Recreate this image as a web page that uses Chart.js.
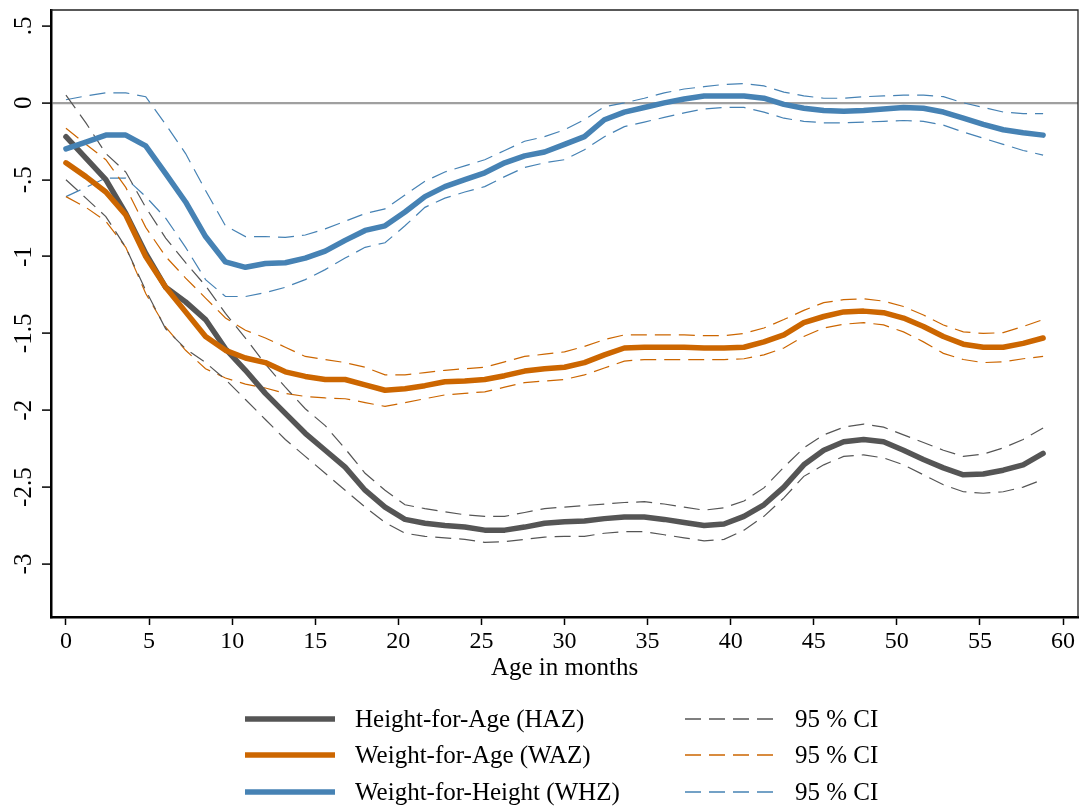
<!DOCTYPE html>
<html>
<head>
<meta charset="utf-8">
<script src="https://cdn.jsdelivr.net/npm/chart.js@4.4.1/dist/chart.umd.min.js"></script>
<style>
  html, body { margin: 0; padding: 0; background: #fff; }
  #wrap { position: relative; width: 1085px; height: 807px; }
  #legend { position: absolute; left: 0; top: 0; font-family: "Liberation Serif", serif; font-size: 25px; color: #000; }
  .item { position: absolute; height: 30px; display: flex; align-items: center; white-space: nowrap; }
  .item svg { margin-right: 20px; }
</style>
</head>
<body>
<div id="wrap">
  <canvas id="chart"></canvas>
  <div id="legend"></div>
</div>
<script>
var ages = [0, 1.2, 2.4, 3.6, 4.8, 6, 7.2, 8.4, 9.6, 10.8,
  12, 13.2, 14.4, 15.6, 16.8, 18, 19.2, 20.4, 21.6, 22.8,
  24, 25.2, 26.4, 27.6, 28.8, 30, 31.2, 32.4, 33.6, 34.8,
  36, 37.2, 38.4, 39.6, 40.8, 42, 43.2, 44.4, 45.6, 46.8,
  48, 49.2, 50.4, 51.6, 52.8, 54, 55.2, 56.4, 57.6, 58.8];

var haz = [-0.22, -0.36, -0.50, -0.72, -0.98, -1.20, -1.295, -1.41, -1.60, -1.74,
  -1.89, -2.02, -2.15, -2.26, -2.37, -2.52, -2.63, -2.71, -2.735, -2.75,
  -2.76, -2.78, -2.78, -2.76, -2.735, -2.725, -2.72, -2.705, -2.695, -2.695,
  -2.71, -2.73, -2.75, -2.74, -2.69, -2.615, -2.50, -2.355, -2.26, -2.205,
  -2.19, -2.205, -2.26, -2.32, -2.375, -2.42, -2.415, -2.39, -2.355, -2.28];
var hazHi = [0.05, -0.13, -0.33, -0.45, -0.68, -0.88, -1.04, -1.19, -1.37, -1.53,
  -1.70, -1.85, -1.99, -2.10, -2.25, -2.41, -2.52, -2.615, -2.64, -2.66,
  -2.68, -2.69, -2.69, -2.665, -2.64, -2.63, -2.62, -2.61, -2.60, -2.595,
  -2.61, -2.63, -2.65, -2.635, -2.59, -2.505, -2.37, -2.245, -2.16, -2.11,
  -2.09, -2.11, -2.16, -2.21, -2.26, -2.30, -2.285, -2.245, -2.19, -2.115];
var hazLo = [-0.50, -0.62, -0.74, -0.94, -1.22, -1.47, -1.60, -1.69, -1.80, -1.93,
  -2.06, -2.19, -2.30, -2.41, -2.52, -2.63, -2.73, -2.80, -2.82, -2.83,
  -2.84, -2.86, -2.855, -2.84, -2.825, -2.82, -2.82, -2.80, -2.79, -2.79,
  -2.81, -2.83, -2.85, -2.84, -2.78, -2.69, -2.57, -2.43, -2.355, -2.30,
  -2.29, -2.31, -2.355, -2.42, -2.485, -2.53, -2.54, -2.53, -2.50, -2.45];

var waz = [-0.39, -0.48, -0.58, -0.73, -1.00, -1.20, -1.36, -1.52, -1.61, -1.66,
  -1.69, -1.75, -1.78, -1.80, -1.80, -1.835, -1.87, -1.86, -1.84, -1.815,
  -1.81, -1.80, -1.775, -1.745, -1.73, -1.72, -1.69, -1.64, -1.595, -1.59,
  -1.59, -1.59, -1.595, -1.595, -1.59, -1.555, -1.51, -1.43, -1.39, -1.36,
  -1.355, -1.365, -1.40, -1.455, -1.52, -1.57, -1.59, -1.59, -1.565, -1.53];
var wazHi = [-0.165, -0.27, -0.37, -0.55, -0.81, -1.00, -1.14, -1.27, -1.40, -1.48,
  -1.53, -1.59, -1.65, -1.67, -1.69, -1.72, -1.77, -1.77, -1.755, -1.74,
  -1.73, -1.72, -1.685, -1.65, -1.635, -1.62, -1.585, -1.54, -1.51, -1.51,
  -1.51, -1.51, -1.515, -1.515, -1.50, -1.465, -1.41, -1.35, -1.30, -1.28,
  -1.275, -1.29, -1.325, -1.38, -1.445, -1.49, -1.50, -1.495, -1.455, -1.41];
var wazLo = [-0.61, -0.68, -0.77, -0.94, -1.24, -1.46, -1.61, -1.73, -1.79, -1.83,
  -1.855, -1.89, -1.91, -1.92, -1.925, -1.95, -1.975, -1.95, -1.925, -1.90,
  -1.89, -1.88, -1.85, -1.82, -1.81, -1.80, -1.77, -1.725, -1.68, -1.67,
  -1.67, -1.67, -1.67, -1.67, -1.665, -1.64, -1.595, -1.52, -1.465, -1.44,
  -1.43, -1.445, -1.49, -1.555, -1.63, -1.67, -1.69, -1.685, -1.665, -1.65];

var whz = [-0.30, -0.255, -0.21, -0.21, -0.28, -0.46, -0.645, -0.87, -1.035, -1.07,
  -1.045, -1.04, -1.01, -0.965, -0.895, -0.83, -0.80, -0.71, -0.61, -0.545,
  -0.50, -0.455, -0.39, -0.345, -0.32, -0.27, -0.22, -0.11, -0.06, -0.03,
  0.0, 0.025, 0.045, 0.045, 0.045, 0.03, -0.01, -0.035, -0.05, -0.055,
  -0.05, -0.04, -0.03, -0.035, -0.06, -0.10, -0.14, -0.175, -0.195, -0.21];
var whzHi = [0.02, 0.045, 0.065, 0.065, 0.04, -0.14, -0.33, -0.57, -0.80, -0.87,
  -0.87, -0.875, -0.86, -0.82, -0.77, -0.72, -0.69, -0.60, -0.51, -0.45,
  -0.41, -0.37, -0.31, -0.25, -0.22, -0.175, -0.11, -0.025, 0.0, 0.03,
  0.065, 0.09, 0.105, 0.12, 0.125, 0.11, 0.07, 0.045, 0.03, 0.03,
  0.04, 0.045, 0.05, 0.05, 0.04, 0.0, -0.03, -0.06, -0.07, -0.07];
var whzLo = [-0.61, -0.55, -0.49, -0.49, -0.61, -0.75, -0.94, -1.15, -1.26, -1.26,
  -1.235, -1.20, -1.15, -1.085, -1.01, -0.94, -0.91, -0.80, -0.68, -0.62,
  -0.58, -0.545, -0.48, -0.42, -0.39, -0.37, -0.305, -0.22, -0.155, -0.125,
  -0.095, -0.065, -0.04, -0.03, -0.03, -0.06, -0.10, -0.12, -0.13, -0.13,
  -0.125, -0.12, -0.115, -0.12, -0.145, -0.19, -0.23, -0.27, -0.31, -0.34];

var xTicks = [0, 5, 10, 15, 20, 25, 30, 35, 40, 45, 50, 55, 60];
var yTicks = [0.5, 0, -0.5, -1, -1.5, -2, -2.5, -3];

var grey = '#555555', orange = '#cc6600', blue = '#4682b4';
var serif = '"Liberation Serif", "Times New Roman", serif';

function pts(arr) {
  return ages.map(function (a, i) { return { x: a, y: arr[i] }; });
}
function mainLine(label, arr, color, order) {
  return { label: label, data: pts(arr), borderColor: color, backgroundColor: color,
    borderWidth: 5.5, borderCapStyle: 'round', borderJoinStyle: 'round',
    pointRadius: 0, tension: 0, order: order, legend: 'main' };
}
function ciLine(label, arr, color) {
  return { label: label, data: pts(arr), borderColor: color, backgroundColor: color,
    borderWidth: 1.2, borderDash: [16, 8], pointRadius: 0, tension: 0, order: 5,
    legend: label ? 'ci' : null };
}

var datasets = [
  mainLine('Height-for-Age (HAZ)', haz, grey, 3),
  mainLine('Weight-for-Age (WAZ)', waz, orange, 2),
  mainLine('Weight-for-Height (WHZ)', whz, blue, 1),
  ciLine('95 % CI', hazHi, grey), ciLine('', hazLo, grey),
  ciLine('95 % CI', wazHi, orange), ciLine('', wazLo, orange),
  ciLine('95 % CI', whzHi, blue), ciLine('', whzLo, blue)
];

var frame = {
  id: 'frame',
  afterDatasetsDraw: function (chart) {
    var a = chart.chartArea, c = chart.ctx;
    c.save();
    c.strokeStyle = '#222';
    c.lineWidth = 1.3;
    c.beginPath();
    c.moveTo(a.left, a.top); c.lineTo(a.right, a.top); c.lineTo(a.right, a.bottom);
    c.stroke();
    c.restore();
  }
};

var chart = new Chart('chart', {
  type: 'line',
  data: { datasets: datasets },
  plugins: [frame],
  options: {
    responsive: true,
    maintainAspectRatio: false,
    animation: false,
    layout: { padding: { top: 10, right: 7, bottom: 115, left: 0 } },
    plugins: { legend: { display: false }, tooltip: { enabled: false } },
    scales: {
      x: {
        type: 'linear', min: -0.9, max: 60.9,
        afterBuildTicks: function (s) { s.ticks = xTicks.map(function (v) { return { value: v }; }); },
        afterFit: function (s) { s.height = 75; s.paddingLeft = 0; s.paddingRight = 0; },
        grid: { drawOnChartArea: false, tickLength: 8, tickColor: '#000', tickWidth: 1.5 },
        border: { display: true, color: '#000', width: 2.5 },
        ticks: { color: '#000', font: { family: serif, size: 24 }, padding: 2, maxRotation: 0 },
        title: { display: true, text: 'Age in months', color: '#000',
          font: { family: serif, size: 25 }, padding: { top: 0, bottom: 9 } }
      },
      y: {
        type: 'linear', min: -3.345, max: 0.604,
        afterBuildTicks: function (s) { s.ticks = yTicks.map(function (v) { return { value: v }; }); },
        afterFit: function (s) { s.width = 51; s.paddingTop = 0; s.paddingBottom = 0; },
        grid: {
          color: function (ctx) { return ctx.tick && ctx.tick.value === 0 ? '#a0a0a0' : 'rgba(0,0,0,0)'; },
          lineWidth: 2.2, tickLength: 9, tickColor: '#000', tickWidth: 1.5
        },
        border: { display: true, color: '#000', width: 2.5 },
        ticks: {
          color: '#000', font: { family: serif, size: 25 }, padding: -2,
          minRotation: 90, maxRotation: 90, crossAlign: 'center',
          callback: function (v) { return v === 0 ? '0' : String(v).replace('0.', '.'); }
        }
      }
    }
  }
});

// legend in two columns, built from the datasets
var cols = [245, 685], rows = [719, 755, 792];
var legend = document.getElementById('legend');
var mi = 0, ci = 0;
chart.data.datasets.forEach(function (ds) {
  if (!ds.legend) return;
  var col = ds.legend === 'main' ? 0 : 1;
  var row = ds.legend === 'main' ? mi++ : ci++;
  var el = document.createElement('div');
  el.className = 'item';
  el.style.left = cols[col] + 'px';
  el.style.top = (rows[row] - 15) + 'px';
  var dash = ds.borderDash ? ' stroke-dasharray="16 8"' : '';
  var w = ds.borderDash ? 1.5 : 5.5;
  el.innerHTML = '<svg width="90" height="12"><line x1="0" y1="6" x2="90" y2="6" stroke="' +
    ds.borderColor + '" stroke-width="' + w + '"' + dash + '/></svg><span>' + ds.label + '</span>';
  legend.appendChild(el);
});
</script>
</body>
</html>
